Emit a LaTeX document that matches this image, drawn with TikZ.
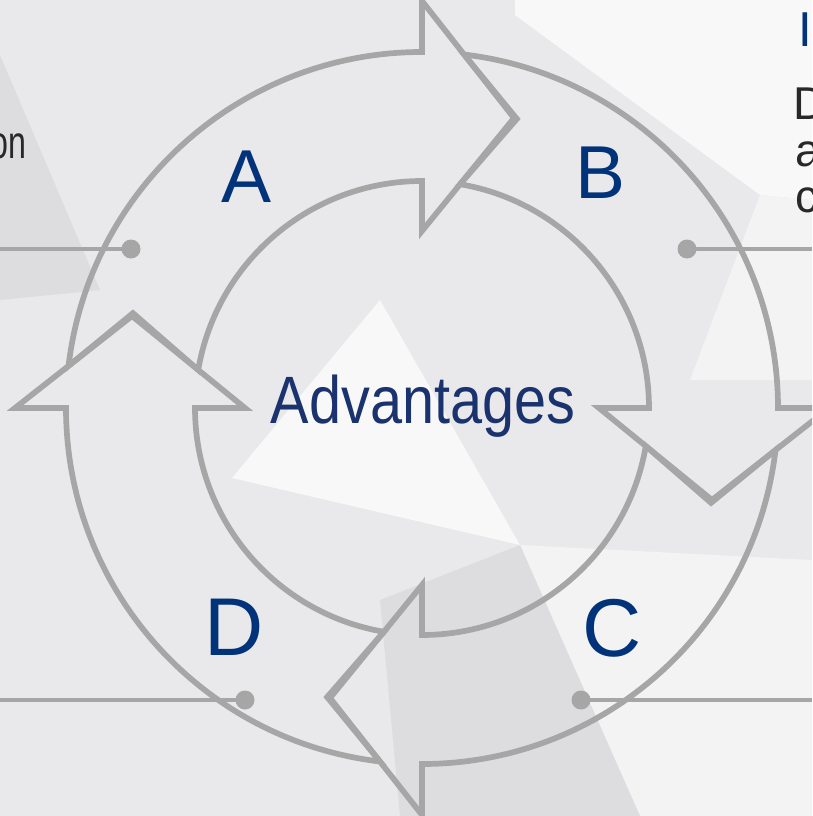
\documentclass[tikz,border=0pt]{standalone}
\usepackage{fontspec}
\usepackage{graphicx}
\setmainfont{Liberation Sans}

\definecolor{ringgray}{RGB}{166,166,166}
\definecolor{letterblue}{RGB}{0,51,122}
\definecolor{centerblue}{RGB}{26,51,110}
\definecolor{bodygray}{RGB}{40,40,40}
\definecolor{bgbase}{RGB}{233,233,235}
\definecolor{bglight}{RGB}{243,243,244}
\definecolor{bgwhite}{RGB}{248,248,248}
\definecolor{bgdark}{RGB}{221,221,224}

\tikzset{
  ringline/.style={draw=ringgray, line width=5.7pt, line join=miter},
  leaderline/.style={draw=ringgray, line width=4pt},
  leaderdot/.style={circle, fill=ringgray, inner sep=0pt, minimum size=19pt},
  seglabel/.style={text=letterblue, inner sep=0pt, anchor=base},
  edgetext/.style={text=bodygray, inner sep=0pt, font=\fontsize{46}{46}\selectfont},
}

\begin{document}
\begin{tikzpicture}[x=1pt,y=-1pt]
  \useasboundingbox (0,0) rectangle (812,816);
  \clip (0,0) rectangle (812,816);

  % Drawing background facets
  \fill [bgbase] (0,0) rectangle (812,816);
  \fill [bgdark] (0,55) -- (100,290) -- (0,300) -- cycle;
  \fill [bgwhite] (515,0) -- (812,0) -- (812,200) -- (760,195) -- (515,15) -- cycle;
  \fill [bglight] (760,195) -- (812,200) -- (812,380) -- (690,380) -- cycle;
  \fill [bgwhite] (232,478) -- (380,300) -- (520,545) -- cycle;
  \fill [bglight] (520,545) -- (812,560) -- (812,816) -- (640,816) -- cycle;
  \fill [bgdark] (380,600) -- (520,545) -- (640,816) -- (400,816) -- cycle;

  % Drawing leader lines with dots
  \node [leaderdot] (dotA) at (131,249) {};
  \node [leaderdot] (dotB) at (687,249) {};
  \node [leaderdot] (dotC) at (581,700) {};
  \node [leaderdot] (dotD) at (245,700) {};
  \coordinate (endA) at (0,249);
  \coordinate (endB) at (812,249);
  \coordinate (endC) at (812,700);
  \coordinate (endD) at (0,700);
  \draw [leaderline] (dotA.center) -- (endA);
  \draw [leaderline] (dotB.center) -- (endB);
  \draw [leaderline] (dotC.center) -- (endC);
  \draw [leaderline] (dotD.center) -- (endD);

  % Drawing ring segments, centre (422,408)
  \begin{scope}[shift={(422,408)}, yscale=-1]
    % Drawing segment A, 9 to 12 o'clock
    \draw [ringline] (173.21:356) arc [start angle=173.21, end angle=90, radius=356]
      -- (90:407) -- (72.40:304.24) -- (90:177) -- (90:227)
      arc [start angle=90, end angle=170.34, radius=227] -- (161.83:304.24) -- cycle;
    % Drawing segment B, 12 to 3 o'clock
    \draw [ringline] (83.21:356) arc [start angle=83.21, end angle=0, radius=356]
      -- (0:407) -- (-17.60:304.24) -- (0:177) -- (0:227)
      arc [start angle=0, end angle=80.34, radius=227] -- (71.83:304.24) -- cycle;
    % Drawing segment C, 3 to 6 o'clock
    \draw [ringline] (-6.79:356) arc [start angle=-6.79, end angle=-90, radius=356]
      -- (-90:407) -- (-107.60:304.24) -- (-90:177) -- (-90:227)
      arc [start angle=-90, end angle=-9.66, radius=227] -- (-18.17:304.24) -- cycle;
    % Drawing segment D, 6 to 9 o'clock
    \draw [ringline] (-96.79:356) arc [start angle=-96.79, end angle=-180, radius=356]
      -- (180:407) -- (162.40:304.24) -- (180:177) -- (180:227)
      arc [start angle=-180, end angle=-99.66, radius=227] -- (-108.17:304.24) -- cycle;
  \end{scope}

  % Marking segment labels
  \node [seglabel, font=\fontsize{75}{75}\selectfont] (labA) at (247,202) {A};
  \node [seglabel, font=\fontsize{75}{75}\selectfont] (labB) at (601,198) {B};
  \node [seglabel, font=\fontsize{82}{82}\selectfont] (labC) at (612,656) {C};
  \node [seglabel, font=\fontsize{82}{82}\selectfont] (labD) at (234,655) {D};

  % Marking centre text
  \node [text=centerblue, inner sep=0pt, anchor=base, font=\fontsize{67}{67}\selectfont]
    (centre) at (423,423) {\scalebox{0.86}[1]{Advantages}};

  % Marking cut texts at the edges
  \node [edgetext, anchor=base east] (leftword) at (27,158) {\scalebox{0.7}[1]{on}};
  \node [text=letterblue, inner sep=0pt, anchor=base west, font=\fontsize{49}{49}\selectfont]
    (righthead) at (798.4,47) {I};
  \node [edgetext, anchor=base west] (rightone) at (793.4,119) {D};
  \node [edgetext, anchor=base west] (righttwo) at (795.3,166) {a};
  \node [edgetext, anchor=base west] (rightthree) at (795.1,212) {c};
\end{tikzpicture}
\end{document}
